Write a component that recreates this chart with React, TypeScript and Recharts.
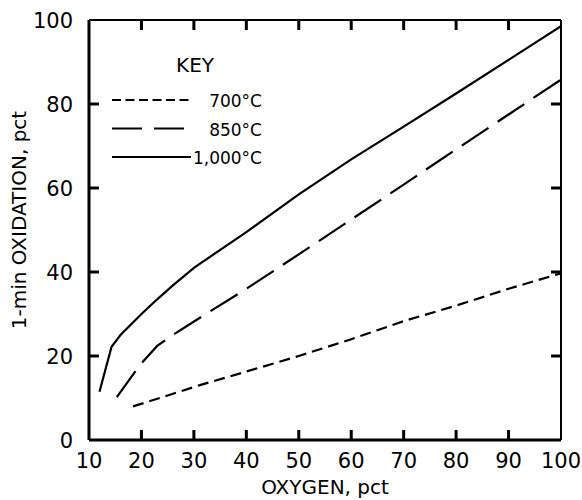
import React from 'react';
import { LineChart, Line, XAxis, YAxis, Legend } from 'recharts';

const oxygen700 = [18.4, 25, 31, 40, 50, 60, 70, 80, 90, 100];
const oxid700 = [8, 10.6, 13, 16.3, 20, 24, 28.3, 32, 36, 39.7];
const oxygen850 = [15.3, 17.5, 19.8, 23, 26, 31, 40, 50, 60, 70, 80, 90, 100];
const oxid850 = [10.2, 14, 18, 22.4, 25, 29, 36, 44.2, 52.5, 60.8, 69.2, 77.5, 85.8];
const oxygen1000 = [12, 14.3, 16, 20, 23, 26, 30, 40, 50, 60, 70, 80, 90, 100];
const oxid1000 = [11.5, 22.2, 25, 30, 33.5, 36.8, 41, 49.5, 58.5, 66.8, 74.6, 82.5, 90.5, 98.5];

const xTicks = [10, 20, 30, 40, 50, 60, 70, 80, 90, 100];
const yTicks = [0, 20, 40, 60, 80, 100];
const innerXTicks = [20, 30, 40, 50, 60, 70, 80, 90];
const innerYTicks = [20, 40, 60, 80];

const seriesNames = ['700°C', '850°C', '1,000°C'];
const dashes = ['11 6', '32 11', undefined];

const toRows = (xs: number[], ys: number[]) => xs.map((x, i) => ({ x, y: ys[i] }));

const FONT = "'DejaVu Sans', Verdana, sans-serif";
const X_MIN = 10;
const X_MAX = 100;
const Y_MIN = 0;
const Y_MAX = 100;
const TICK_DX = 1.9;
const TICK_DY = 2.4;
const LABEL_GAP = 12;

// one series holding every inward tick mark, separated by null gaps
const tickRows: { x: number; y: number | null }[] = [];
innerXTicks.forEach((v) => {
  tickRows.push({ x: v, y: Y_MIN }, { x: v, y: Y_MIN + TICK_DY }, { x: v, y: null });
});
innerXTicks.forEach((v) => {
  tickRows.push({ x: v, y: Y_MAX }, { x: v, y: Y_MAX - TICK_DY }, { x: v, y: null });
});
innerYTicks.forEach((v) => {
  tickRows.push({ x: X_MIN, y: v }, { x: X_MIN + TICK_DX, y: v }, { x: X_MIN + TICK_DX, y: null });
});
innerYTicks.forEach((v) => {
  tickRows.push({ x: X_MAX - TICK_DX, y: v }, { x: X_MAX, y: v }, { x: X_MAX, y: null });
});

const KeyBox = () => (
  <svg width={170} height={125} style={{ display: 'block', overflow: 'visible' }}>
    <text x={95} y={27} textAnchor="middle" fontFamily={FONT} fontSize={20} fill="#000">KEY</text>
    {seriesNames.map((name, i) => {
      const cy = 55 + i * 28.5;
      return (
        <g key={name}>
          <line x1={12} x2={i === 2 ? 91 : 89} y1={cy} y2={cy} stroke="#000" strokeWidth={2.2}
            strokeDasharray={i === 0 ? '9 4.5' : i === 1 ? '30 12' : undefined} />
          <text x={162} y={cy + 7} textAnchor="end" fontFamily={FONT} fontSize={17} fill="#000">{name}</text>
        </g>
      );
    })}
  </svg>
);

const BottomTick = (p: any) => (
  <text x={Number(p.x)} y={Number(p.y)} dy="0.76em" textAnchor="middle" fontFamily={FONT} fontSize={21} fill="#000">{p.payload.value}</text>
);

const LeftTick = (p: any) => (
  <text x={Number(p.x) - 4} y={Number(p.y)} dy="0.36em" textAnchor="end" fontFamily={FONT} fontSize={21} fill="#000">{p.payload.value}</text>
);

export default function App() {
  const data700 = toRows(oxygen700, oxid700);
  const data850 = toRows(oxygen850, oxid850);
  const data1000 = toRows(oxygen1000, oxid1000);
  return (
    <div style={{ position: 'absolute', left: 0, top: 0, background: '#fff' }}>
      <LineChart width={582} height={500} margin={{ top: 19, right: 20, bottom: 0, left: 0 }}>
        <XAxis
          xAxisId="b"
          dataKey="x"
          type="number"
          domain={[X_MIN, X_MAX]}
          ticks={xTicks}
          allowDataOverflow
          height={60}
          stroke="#000"
          strokeWidth={3}
          tickSize={0}
          tickMargin={LABEL_GAP}
          tickLine={false}
          tick={BottomTick}
          label={{ value: 'OXYGEN, pct', position: 'insideBottom', offset: 6, style: { fontFamily: FONT, fontSize: 20, fill: '#000' } }}
        />
        <XAxis
          xAxisId="t"
          orientation="top"
          dataKey="x"
          type="number"
          domain={[X_MIN, X_MAX]}
          ticks={xTicks}
          height={1}
          stroke="#000"
          strokeWidth={2}
          tickSize={0}
          tickLine={false}
          tick={false}
        />
        <YAxis
          yAxisId="l"
          type="number"
          domain={[Y_MIN, Y_MAX]}
          ticks={yTicks}
          width={89}
          stroke="#000"
          strokeWidth={3}
          tickSize={0}
          tickMargin={LABEL_GAP}
          tickLine={false}
          tick={LeftTick}
          label={{
            content: (p: any) => {
              const vb = p.viewBox || { x: 0, y: 20, width: 89, height: 420 };
              const cx = vb.x + 19;
              const cy = vb.y + vb.height / 2 - 10;
              return (
                <text x={cx} y={cy} transform={`rotate(-90 ${cx} ${cy})`} textAnchor="middle" dominantBaseline="central"
                  fontFamily={FONT} fontSize={20} fill="#000">1-min OXIDATION, pct</text>
              );
            },
          }}
        />
        <YAxis
          yAxisId="r"
          orientation="right"
          type="number"
          domain={[Y_MIN, Y_MAX]}
          ticks={innerYTicks}
          width={1}
          stroke="#000"
          strokeWidth={2}
          tickSize={0}
          tickLine={false}
          tick={false}
        />
        <Legend
          layout="vertical"
          align="center"
          verticalAlign="middle"
          content={() => <KeyBox />}
          wrapperStyle={{ left: 100, top: 45, width: 170, height: 125 }}
        />
        <Line xAxisId="b" yAxisId="l" data={tickRows} dataKey="y" name="ticks" type="linear" stroke="#000"
          strokeWidth={3} strokeLinecap="butt" connectNulls={false} dot={false} activeDot={false}
          legendType="none" isAnimationActive={false} />
        <Line xAxisId="b" yAxisId="l" data={data700} dataKey="y" name={seriesNames[0]} type="linear" stroke="#000"
          strokeWidth={2.2} strokeDasharray={dashes[0]} dot={false} activeDot={false} isAnimationActive={false} />
        <Line xAxisId="b" yAxisId="l" data={data850} dataKey="y" name={seriesNames[1]} type="linear" stroke="#000"
          strokeWidth={2.2} strokeDasharray={dashes[1]} dot={false} activeDot={false} isAnimationActive={false} />
        <Line xAxisId="b" yAxisId="l" data={data1000} dataKey="y" name={seriesNames[2]} type="linear" stroke="#000"
          strokeWidth={2.2} dot={false} activeDot={false} isAnimationActive={false} />
      </LineChart>
    </div>
  );
}
